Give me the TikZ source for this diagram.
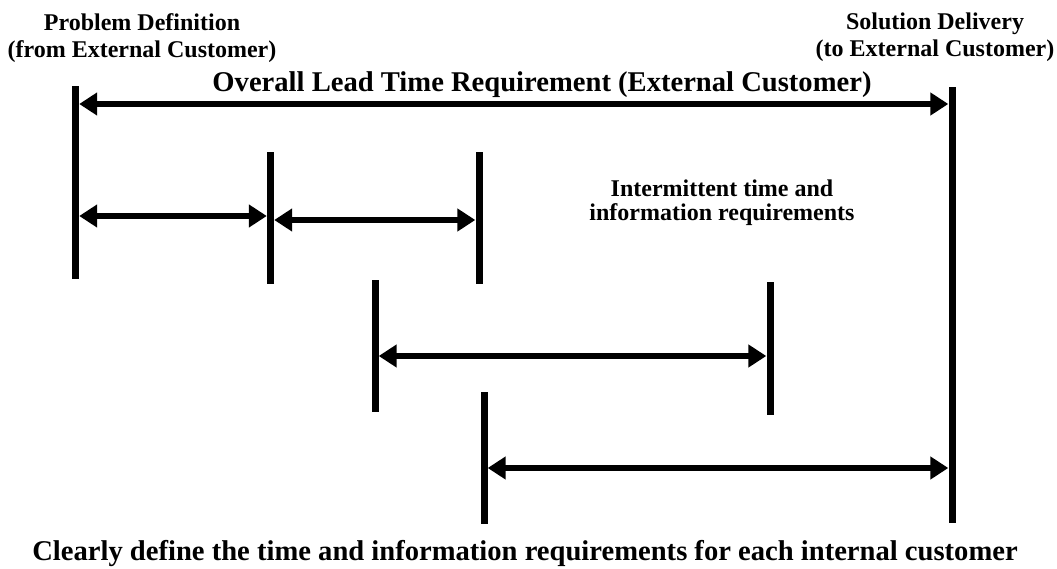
\documentclass[tikz,border=0pt]{standalone}
\usepackage{fontspec}
\setmainfont{Liberation Serif}
\usetikzlibrary{arrows.meta}

\tikzset{
  bar/.style      = {rectangle, fill=black, inner sep=0pt,
                     minimum width=7pt, minimum height=132pt},
  interval/.style = {draw, line width=6.5pt,
                     {Triangle[length=18pt,width=22pt]}-{Triangle[length=18pt,width=22pt]}},
  note/.style     = {align=center, font=\fontsize{24}{27}\selectfont\bfseries},
  heading/.style  = {font=\fontsize{28.6}{32}\selectfont\bfseries}
}

\begin{document}
\begin{tikzpicture}[x=1pt,y=1pt]
\useasboundingbox (0,0) rectangle (1057,-569);

% end points of the overall lead time
\node [bar, minimum height=193pt] (pd) at (75.5,-182.5) {};
\node [bar, minimum height=436pt] (sd) at (952,-305) {};

% internal customers
\node [bar] (b1) at (270.5,-218) {};
\node [bar] (b2) at (479,-218) {};
\node [bar] (b3) at (375,-346) {};
\node [bar] (b4) at (770,-348.5) {};
\node [bar] (b5) at (484,-457.5) {};

\draw [interval] (pd.east |- 0,-104) -- (sd.west |- 0,-104);
\draw [interval] (pd.east |- 0,-216) -- (b1.west |- 0,-216);
\draw [interval] (b1.east |- 0,-220) -- (b2.west |- 0,-220);
\draw [interval] (b3.east |- 0,-356) -- (b4.west |- 0,-356);
\draw [interval] (b5.east |- 0,-468) -- (sd.west |- 0,-468);

\node [note] (start) at (142,-38) {Problem Definition\\(from External Customer)};
\node [note] (end) at (935,-37) {Solution Delivery\\(to External Customer)};
\node [heading, anchor=base] (overall) at (542,-92)
      {Overall Lead Time Requirement (External Customer)};
\node [note, font=\fontsize{24}{24}\selectfont\bfseries] (mid) at (722,-203)
      {Intermittent time and\\information requirements};
\node [heading, anchor=base] (bottom) at (525,-560)
      {Clearly define the time and information requirements for each internal customer};
\end{tikzpicture}
\end{document}
